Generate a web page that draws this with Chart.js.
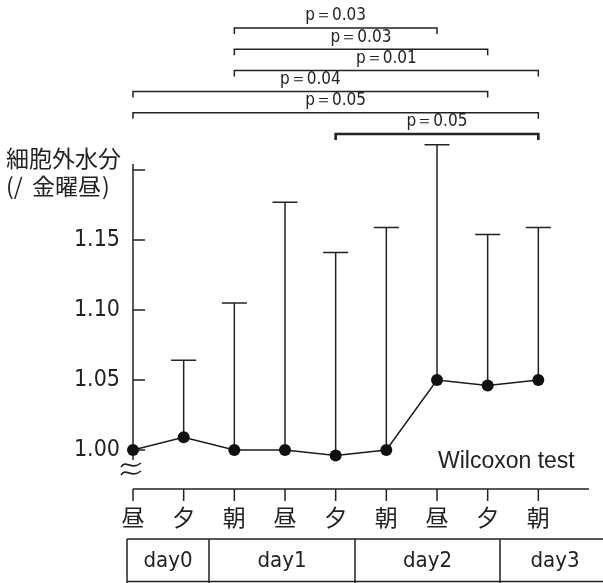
<!DOCTYPE html>
<html>
<head>
<meta charset="utf-8">
<script src="https://cdn.jsdelivr.net/npm/chart.js@4"></script>
<style>
  html,body{margin:0;padding:0;background:#fff}
  #wrap{width:603px;height:583px}
</style>
</head>
<body>
<div id="wrap"><canvas id="c" width="603" height="583"></canvas></div>
<script>
// data
const timeLabels = ['昼','夕','朝','昼','夕','朝','昼','夕','朝'];
const meanValues = [1.000, 1.009, 1.000, 1.000, 0.996, 1.000, 1.050, 1.046, 1.050];
const upperValues = [null, 1.064, 1.105, 1.177, 1.141, 1.159, 1.218, 1.154, 1.159];
const yTickValues = [1.00, 1.05, 1.10, 1.15, 1.20];
const yTickLabels = ['1.00', '1.05', '1.10', '1.15', ''];
const dayLabels = ['day0', 'day1', 'day2', 'day3'];
const pairFrom = [2, 2, 2, 0, 0, 4];
const pairTo = [6, 7, 8, 7, 8, 8];
const pValues = ['0.03', '0.03', '0.01', '0.04', '0.05', '0.05'];

const INK = '#222';
const NARROW = '"DejaVu Sans Condensed", "Liberation Sans Narrow", sans-serif';
const JP = '"Noto Sans CJK JP", sans-serif';

// table cell edges (px) under the axis
const tableEdges = [127, 209, 355, 500, 610];

const decor = {
  id: 'decor',
  beforeDatasetsDraw(chart){
    const { ctx, chartArea: a, scales: { x, y } } = chart;
    ctx.save();
    ctx.strokeStyle = INK;
    ctx.lineWidth = 1.5;

    // y axis with inward ticks
    ctx.beginPath();
    ctx.moveTo(a.left, a.top); ctx.lineTo(a.left, 460);
    yTickValues.forEach(v => { const py = y.getPixelForValue(v); ctx.moveTo(a.left, py); ctx.lineTo(a.left + 12, py); });
    ctx.stroke();

    // x axis, detached from y axis
    ctx.beginPath();
    ctx.moveTo(a.left, a.bottom); ctx.lineTo(a.right, a.bottom);
    timeLabels.forEach((_, i) => { const px = x.getPixelForValue(i); ctx.moveTo(px, a.bottom); ctx.lineTo(px, a.bottom + 12); });
    ctx.stroke();

    // axis break mark
    ctx.lineWidth = 1.6;
    [465, 473].forEach(cy => {
      ctx.beginPath();
      ctx.moveTo(121, cy + 2);
      ctx.bezierCurveTo(126, cy - 6, 131, cy + 6, 141, cy - 2);
      ctx.stroke();
    });

    // error bars (upper only)
    ctx.lineWidth = 1.5;
    upperValues.forEach((u, i) => {
      if (u == null) return;
      const px = x.getPixelForValue(i);
      const y0 = y.getPixelForValue(meanValues[i]);
      const y1 = y.getPixelForValue(u);
      ctx.beginPath();
      ctx.moveTo(px, y0); ctx.lineTo(px, y1);
      ctx.moveTo(px - 12.5, y1); ctx.lineTo(px + 12.5, y1);
      ctx.stroke();
    });
    ctx.restore();
  },
  afterDraw(chart){
    const { ctx, scales: { x, y } } = chart;
    ctx.save();
    ctx.fillStyle = INK;
    ctx.strokeStyle = INK;

    // y tick labels
    ctx.font = `23px ${NARROW}`;
    ctx.textAlign = 'right'; ctx.textBaseline = 'middle';
    yTickValues.forEach((v, i) => ctx.fillText(yTickLabels[i], 120, y.getPixelForValue(v)));

    // y title
    ctx.font = `23px ${JP}`;
    ctx.textAlign = 'left';
    ctx.fillText('細胞外水分', 6, 158);
    ctx.fillText('(/', 6, 186);
    ctx.fillText('金曜昼', 32, 186);
    ctx.fillText(')', 102, 186);

    // x labels
    ctx.textAlign = 'center';
    timeLabels.forEach((t, i) => ctx.fillText(t, x.getPixelForValue(i), 517));

    // test note
    ctx.font = '23px "Liberation Sans", Arial, sans-serif';
    ctx.textAlign = 'left';
    ctx.fillText('Wilcoxon test', 438, 462);

    // significance brackets
    pValues.forEach((p, k) => {
      const by = 28 + k * 21.2;
      const x0 = x.getPixelForValue(pairFrom[k]);
      const x1 = x.getPixelForValue(pairTo[k]);
      ctx.lineWidth = k === pValues.length - 1 ? 2.6 : 1.5;
      ctx.beginPath();
      ctx.moveTo(x0, by + 6); ctx.lineTo(x0, by); ctx.lineTo(x1, by); ctx.lineTo(x1, by + 6);
      ctx.stroke();
      ctx.font = `17px ${NARROW}`;
      ctx.textAlign = 'center'; ctx.textBaseline = 'middle';
      ctx.fillText('p＝' + p, (x0 + x1) / 2, by - 12);
    });

    // day table
    ctx.lineWidth = 1.5;
    ctx.beginPath();
    ctx.moveTo(tableEdges[0], 539); ctx.lineTo(603, 539);
    ctx.moveTo(tableEdges[0], 581.5); ctx.lineTo(603, 581.5);
    tableEdges.forEach(ex => { ctx.moveTo(ex, 539); ctx.lineTo(ex, 583); });
    ctx.stroke();
    ctx.font = `22px ${NARROW}`;
    ctx.textAlign = 'center'; ctx.textBaseline = 'middle';
    dayLabels.forEach((d, i) => ctx.fillText(d, (tableEdges[i] + tableEdges[i + 1]) / 2, 561));
    ctx.restore();
  }
};

new Chart(document.getElementById('c'), {
  type: 'line',
  data: {
    datasets: [{
      data: meanValues.map((v, i) => ({ x: i, y: v })),
      borderColor: '#1a1a1a',
      borderWidth: 1.5,
      pointRadius: 6,
      pointBackgroundColor: '#111',
      pointBorderColor: '#111',
      pointBorderWidth: 0,
      tension: 0,
      clip: false
    }]
  },
  options: {
    responsive: false,
    animation: false,
    devicePixelRatio: 1,
    layout: { padding: { left: 133, right: 14, top: 164, bottom: 94 } },
    plugins: { legend: { display: false }, tooltip: { enabled: false } },
    scales: {
      x: { type: 'linear', min: 0, max: 9, display: false },
      y: { min: 0.9721, max: 1.2043, display: false }
    }
  },
  plugins: [decor]
});
</script>
</body>
</html>
